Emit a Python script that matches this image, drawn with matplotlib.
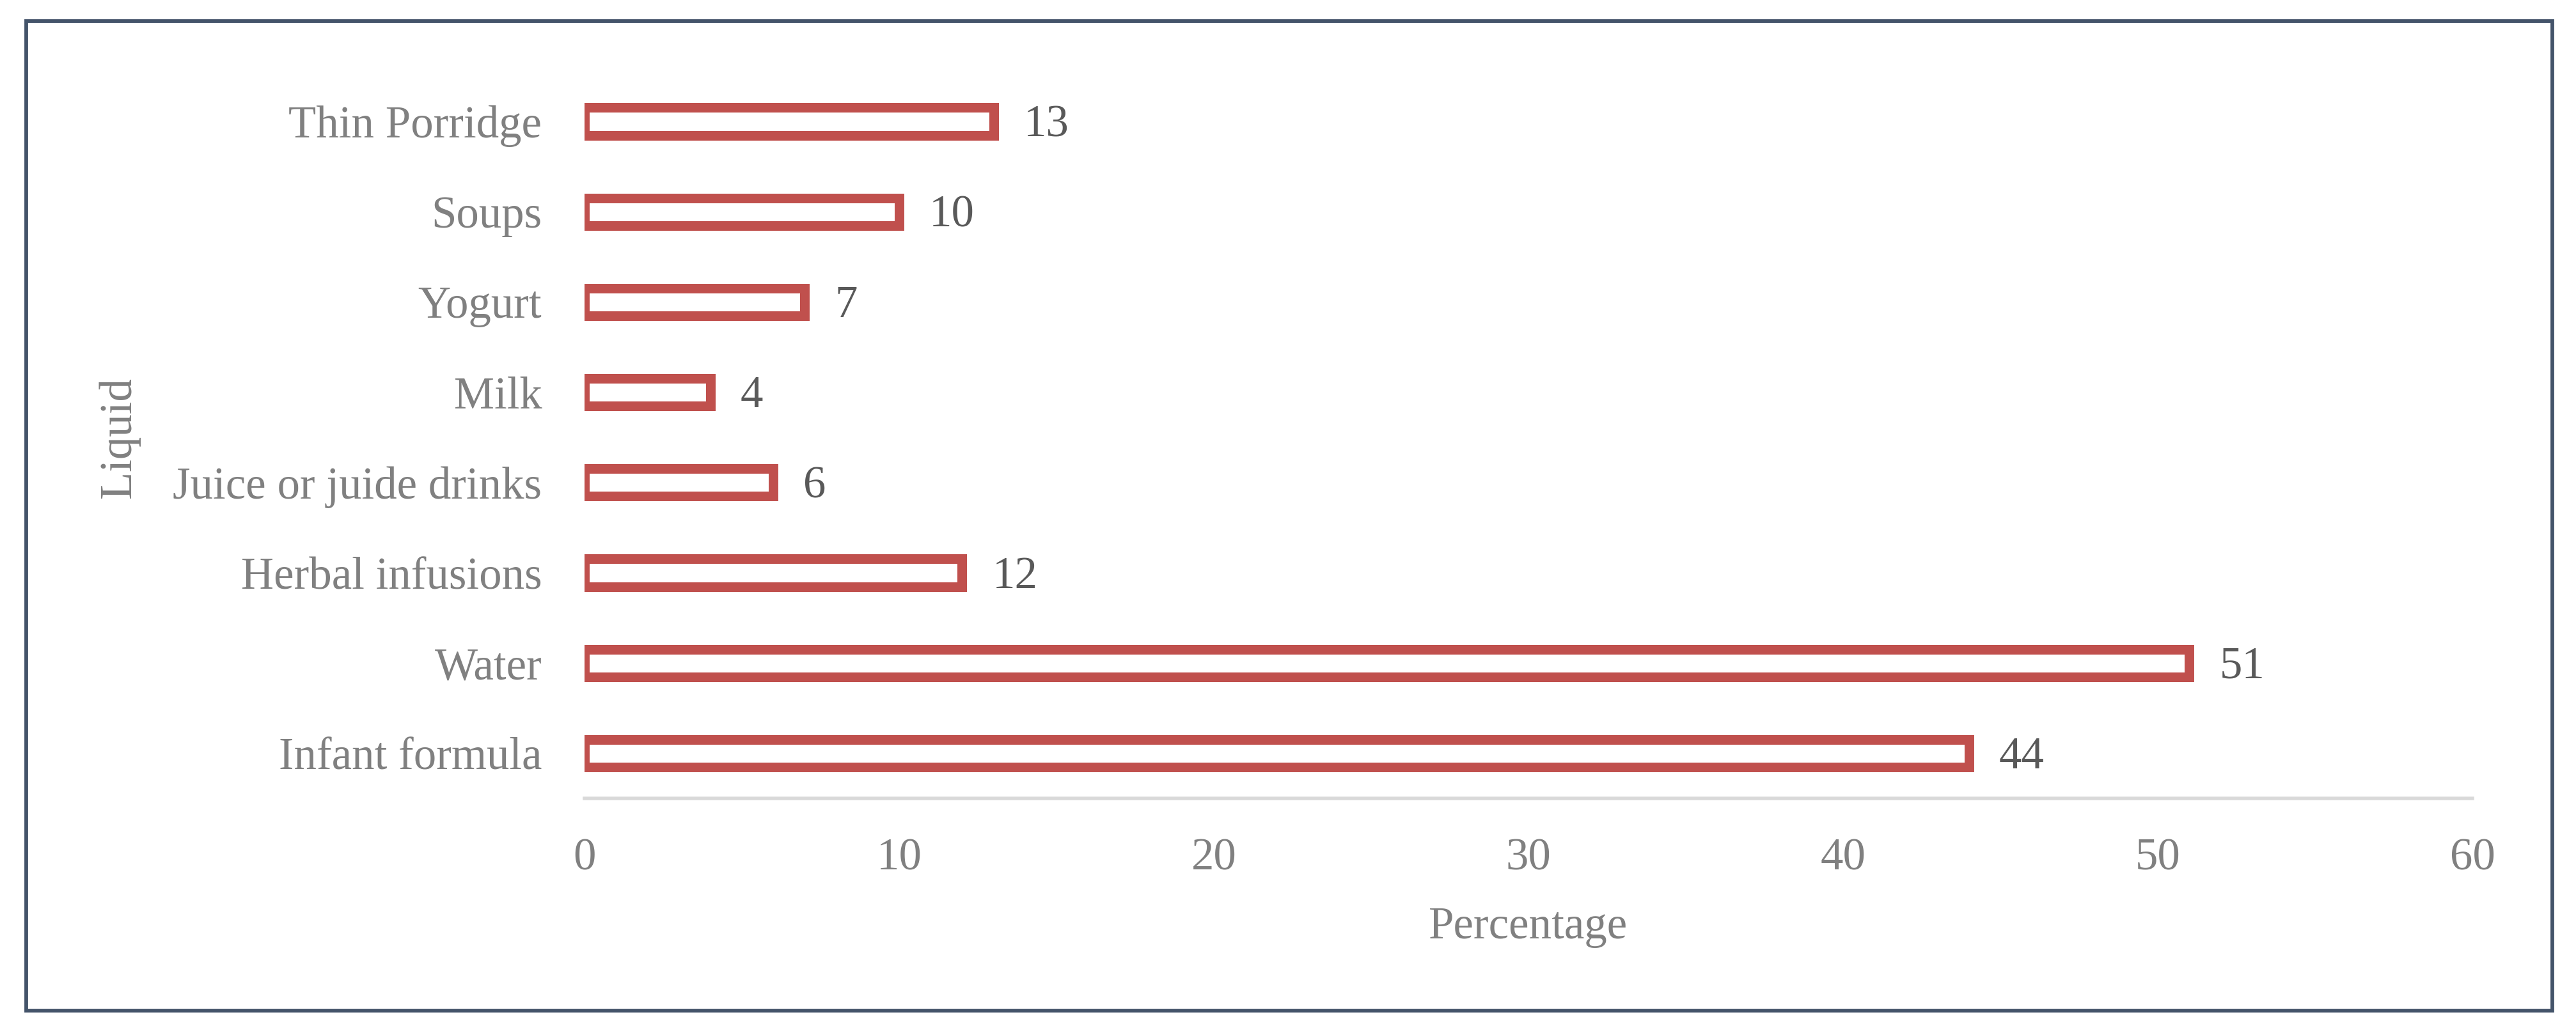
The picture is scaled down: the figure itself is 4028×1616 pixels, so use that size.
import matplotlib
matplotlib.use("Agg")
import matplotlib.pyplot as plt
from matplotlib.patches import Rectangle

# data (bottom to top)
liquids = ["Infant formula", "Water", "Herbal infusions", "Juice or juide drinks",
           "Milk", "Yogurt", "Soups", "Thin Porridge"]
percent = [44, 51, 12, 6, 4, 7, 10, 13]
xticks = [0, 10, 20, 30, 40, 50, 60]

RED = "#C0504D"
GREY = "#808080"
DARK = "#595959"
plt.rcParams["font.family"] = ["Liberation Serif", "DejaVu Serif"]

W, H = 4028, 1616
fig = plt.figure(figsize=(W / 100, H / 100), dpi=100)
ax = fig.add_axes([914 / W, 1 - 1249 / H, (3866 - 914) / W, (1249 - 119.4) / H])

ypos = list(range(len(liquids)))
ax.barh(ypos, percent, height=0.305, color="white", edgecolor=RED, linewidth=10.8)

# value labels, digits centred on the bar
for y, v in zip(ypos, percent):
    ax.annotate(str(v), (v, y), xytext=(34, -17), textcoords="offset points",
                ha="left", va="baseline", fontsize=51, color=DARK)

ax.set_xlim(0, 60)
ax.set_ylim(-0.5, len(liquids) - 0.5)
ax.set_xticks(xticks)
ax.set_yticks(ypos)
ax.set_yticklabels(liquids)
ax.tick_params(axis="both", length=0, labelsize=51, labelcolor=GREY)
ax.tick_params(axis="x", pad=44)
ax.tick_params(axis="y", pad=48)

for s in ["top", "right", "left"]:
    ax.spines[s].set_visible(False)
ax.spines["bottom"].set_color("#D9D9D9")
ax.spines["bottom"].set_linewidth(4)

ax.set_xlabel("Percentage", fontsize=51, color=GREY, va="center")
ax.xaxis.set_label_coords(0.5, -0.178)
ax.set_ylabel("Liquid", fontsize=51, color=GREY, va="center")
ax.yaxis.set_label_coords(-0.2464, 0.5)

# outer frame
fig.patches.append(Rectangle((41 / W, 1 - 1581 / H), (3991 - 41) / W, (1581 - 33) / H,
                             transform=fig.transFigure, fill=False,
                             edgecolor="#44546A", linewidth=4.2))

fig.savefig("out.png", dpi=100)
